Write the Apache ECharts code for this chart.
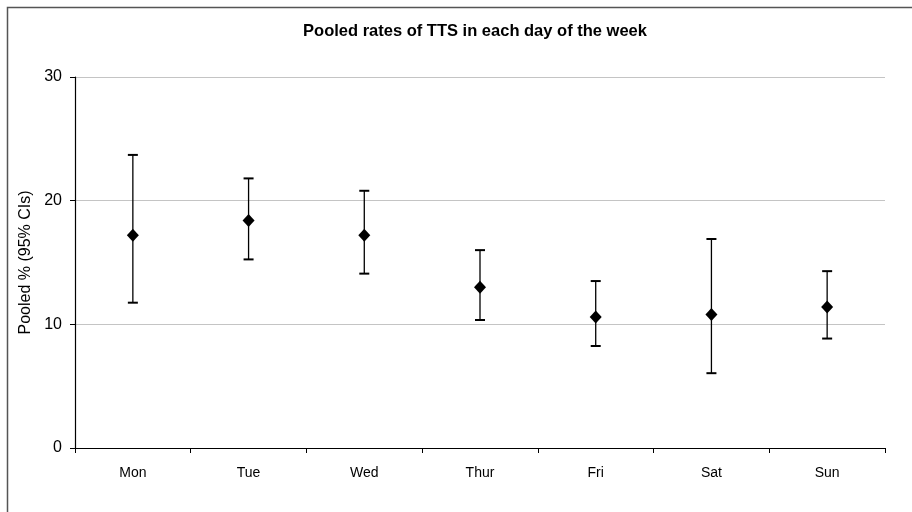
<!DOCTYPE html>
<html>
<head>
<meta charset="utf-8">
<script src="https://cdn.jsdelivr.net/npm/echarts@6/dist/echarts.min.js"></script>
<style>
  html, body { margin: 0; padding: 0; background: #fff; }
  #chart { width: 912px; height: 512px; }
</style>
</head>
<body>
<div id="chart"></div>
<script>
const days = ["Mon", "Tue", "Wed", "Thur", "Fri", "Sat", "Sun"];
const pooled = [17.2, 18.4, 17.2, 13.0, 10.6, 10.8, 11.4];
const ciLow = [11.75, 15.25, 14.1, 10.35, 8.25, 6.05, 8.85];
const ciHigh = [23.7, 21.8, 20.8, 16.0, 13.5, 16.9, 14.3];

const font = "Liberation Sans, Arial, sans-serif";

const chart = echarts.init(document.getElementById("chart"));

// error bars drawn through the axes' own coordinate system
const errorData = days.map((d, i) => [i, ciLow[i], ciHigh[i]]);

chart.setOption({
  animation: false,
  title: {
    text: "Pooled rates of TTS in each day of the week",
    left: 470,
    top: 18,
    textAlign: "center",
    textStyle: { fontFamily: font, fontSize: 16.5, fontWeight: "bold", color: "#000" },
  },
  graphic: [
    {
      type: "rect",
      shape: { x: 7.5, y: 7.5, width: 1000, height: 1000 },
      style: { fill: "none", stroke: "#555", lineWidth: 1.5 },
    },
  ],
  grid: { left: 75, right: 27, top: 77, bottom: 64 },
  xAxis: {
    type: "category",
    data: days,
    boundaryGap: true,
    axisLine: { lineStyle: { color: "#000", width: 1.2 } },
    axisTick: { show: true, length: 5, lineStyle: { color: "#000" } },
    axisLabel: { color: "#000", fontFamily: font, fontSize: 14, margin: 18 },
    splitLine: { show: false },
  },
  yAxis: {
    type: "value",
    min: 0,
    max: 30,
    interval: 10,
    name: "Pooled % (95% CIs)",
    nameLocation: "middle",
    nameGap: 36,
    nameTextStyle: { color: "#000", fontFamily: font, fontSize: 16 },
    axisLine: { show: true, lineStyle: { color: "#000", width: 1.2 } },
    axisTick: { show: true, length: 5, lineStyle: { color: "#000" } },
    axisLabel: { color: "#000", fontFamily: font, fontSize: 16, margin: 13 },
    splitLine: { show: true, lineStyle: { color: "#c4c4c4", width: 1 } },
  },
  series: [
    {
      type: "custom",
      data: errorData,
      renderItem: (params, api) => {
        const x = api.value(0);
        const lo = api.coord([x, api.value(1)]);
        const hi = api.coord([x, api.value(2)]);
        const half = 5;
        const style = { stroke: "#000", lineWidth: 1.3 };
        return {
          type: "group",
          children: [
            { type: "line", shape: { x1: lo[0], y1: lo[1], x2: hi[0], y2: hi[1] }, style },
            { type: "line", shape: { x1: hi[0] - half, y1: hi[1], x2: hi[0] + half, y2: hi[1] }, style: { stroke: "#000", lineWidth: 2 } },
            { type: "line", shape: { x1: lo[0] - half, y1: lo[1], x2: lo[0] + half, y2: lo[1] }, style: { stroke: "#000", lineWidth: 2 } },
          ],
        };
      },
      z: 2,
    },
    {
      type: "scatter",
      data: pooled,
      symbol: "diamond",
      symbolSize: [12, 13],
      itemStyle: { color: "#000", opacity: 1 },
      z: 3,
    },
  ],
});
</script>
</body>
</html>
